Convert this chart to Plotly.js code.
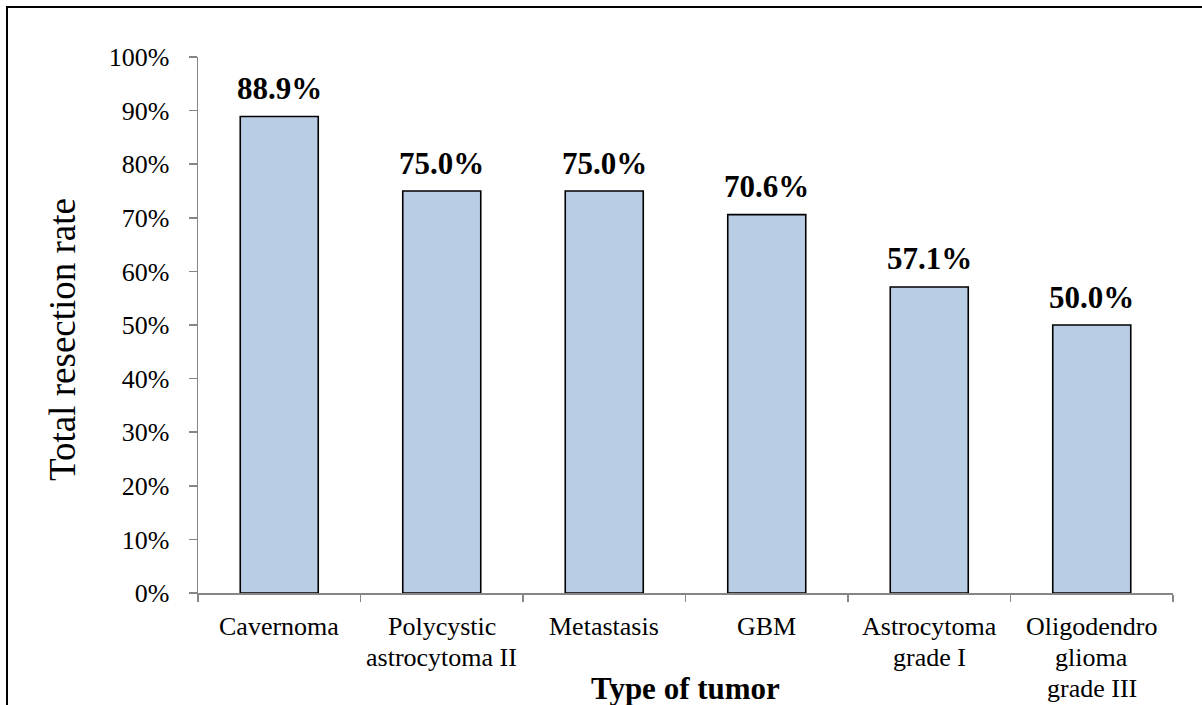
<!DOCTYPE html>
<html>
<head>
<meta charset="utf-8">
<script src="https://cdn.plot.ly/plotly-3.0.1.min.js"></script>
<style>
  html, body { margin: 0; padding: 0; background: #fff; }
  #wrap { position: relative; width: 1202px; height: 705px; }
  #chart { position: absolute; left: 0; top: 0; width: 1202px; height: 705px; }
  #frame { position: absolute; left: 6px; top: 6px; width: 1196px; height: 699px;
           border-left: 2.5px solid #000; border-top: 2.5px solid #000; pointer-events: none; }
</style>
</head>
<body>
<div id="wrap">
  <div id="chart"></div>
  <div id="frame"></div>
</div>
<script>
const categories = ["Cavernoma", "Polycystic\nastrocytoma II", "Metastasis", "GBM", "Astrocytoma\ngrade I", "Oligodendro\nglioma\ngrade III"];
const values = [0.889, 0.750, 0.750, 0.706, 0.571, 0.500];
const valueLabels = ["88.9%", "75.0%", "75.0%", "70.6%", "57.1%", "50.0%"];
const yTickVals = [0, 0.1, 0.2, 0.3, 0.4, 0.5, 0.6, 0.7, 0.8, 0.9, 1.0];
const xTitle = "Type of tumor";
const yTitle = "Total resection rate";

const serif = "Liberation Serif, Times New Roman, serif";
const catKeys = categories.map((c, i) => "c" + i);

const annotations = [];
// category labels (multi-line, below the axis)
categories.forEach((lab, i) => {
  lab.split("\n").forEach((line, j) => {
    annotations.push({
      x: catKeys[i], xref: "x", y: 0, yref: "paper",
      yanchor: "middle", xanchor: "center",
      yshift: -(33 + 31 * j),
      text: line, showarrow: false,
      font: { family: serif, size: 26, color: "#000" }
    });
  });
});
// value labels above bars
values.forEach((v, i) => {
  annotations.push({
    x: catKeys[i], xref: "x", y: v, yref: "y",
    yanchor: "middle", xanchor: "center", yshift: 28,
    text: "<b>" + valueLabels[i] + "</b>", showarrow: false,
    font: { family: serif, size: 31, color: "#000" }
  });
});
// axis titles
annotations.push({
  x: 0.5, xref: "paper", y: 0, yref: "paper", yanchor: "middle", xanchor: "center",
  yshift: -95, text: "<b>" + xTitle + "</b>", showarrow: false,
  font: { family: serif, size: 31, color: "#000" }
});
annotations.push({
  x: 0, xref: "paper", y: 0.5, yref: "paper", yanchor: "middle", xanchor: "center",
  xshift: -136, yshift: -15, textangle: -90, text: yTitle, showarrow: false,
  font: { family: serif, size: 37, color: "#000" }
});

const trace = {
  type: "bar",
  x: catKeys,
  y: values,
  width: 0.48,
  marker: { color: "#b9cde5", line: { color: "#000", width: 1.6 } },
  hoverinfo: "skip"
};

const layout = {
  width: 1202, height: 705,
  margin: { l: 198, r: 29, t: 57, b: 112, pad: 0 },
  paper_bgcolor: "#fff", plot_bgcolor: "#fff",
  showlegend: false,
  bargap: 0.52,
  xaxis: {
    type: "category",
    showticklabels: false,
    tickson: "boundaries",
    ticks: "outside", ticklen: 7, tickwidth: 1.5, tickcolor: "#868686",
    showline: true, linecolor: "#868686", linewidth: 1.5,
    showgrid: false, zeroline: false, fixedrange: true
  },
  yaxis: {
    range: [0, 1],
    tickvals: yTickVals, tickformat: ".0%",
    ticks: "outside", ticklen: 8, tickwidth: 1.5, tickcolor: "#868686",
    ticklabelstandoff: 14,
    showline: true, linecolor: "#868686", linewidth: 1.5,
    showgrid: false, zeroline: false, fixedrange: true,
    tickfont: { family: serif, size: 26, color: "#000" }
  },
  annotations: annotations
};

Plotly.newPlot("chart", [trace], layout, { displayModeBar: false, staticPlot: true });
</script>
</body>
</html>
